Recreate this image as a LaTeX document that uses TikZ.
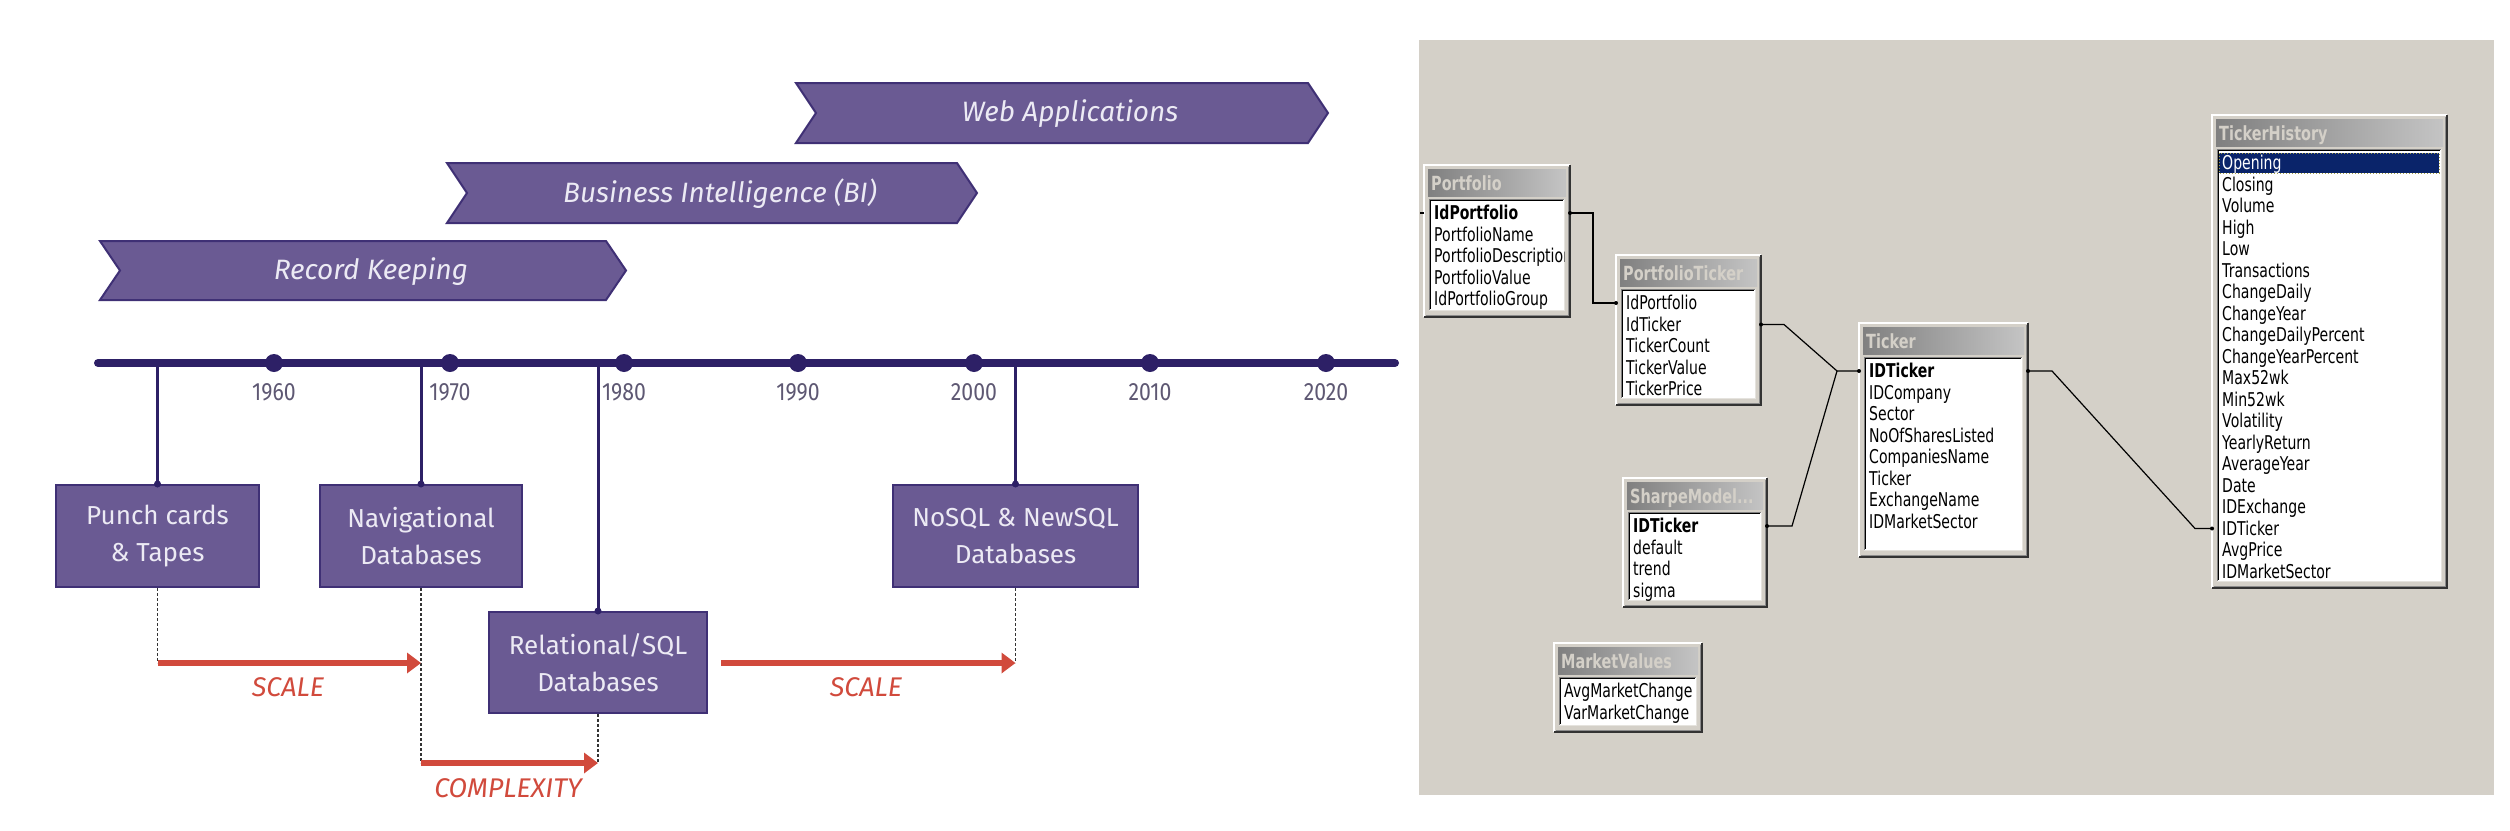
\documentclass[tikz,border=0pt]{standalone}
\usepackage{fontspec}
\setmainfont{Fira Sans}
\newfontfamily\tlfont{Fira Sans}
\newfontfamily\yrfont[FakeStretch=0.85]{Fira Sans}
\newfontfamily\dbfont[FakeStretch=0.74]{DejaVu Sans}
\usetikzlibrary{calc,arrows.meta}
\definecolor{chev}{HTML}{6A5A93}
\definecolor{chevdark}{HTML}{3F3075}
\definecolor{tline}{HTML}{2D2066}
\definecolor{boxtext}{HTML}{ECEAF4}
\definecolor{yeartext}{HTML}{5E5873}
\definecolor{redarr}{HTML}{D14A3C}
\definecolor{panel}{HTML}{D4D0C8}
\definecolor{tbL}{HTML}{808080}
\definecolor{tbR}{HTML}{C4C4C4}
\definecolor{selblue}{HTML}{0A246A}
\tikzset{
  chevtext/.style={font=\tlfont\itshape\fontsize{28}{32}\selectfont, text=boxtext},
  era/.style={rectangle, fill=chev, draw=chevdark, line width=2, text=boxtext, align=center,
              font=\tlfont\fontsize{26}{37}\selectfont, inner sep=0},
  tdot/.style={circle, fill=tline, minimum size=18, inner sep=0},
  year/.style={font=\yrfont\fontsize{25}{28}\selectfont, text=yeartext},
  drop/.style={tline, line width=3},
  dashlink/.style={black!80, line width=1.2, dash pattern=on 3pt off 2pt},
  redarrow/.style={redarr, line width=6, -{Triangle[length=14,width=20]}},
  redlabel/.style={font=\tlfont\itshape\fontsize{27}{30}\selectfont, text=redarr},
  conn/.style={black, line width=1.2},
  tabframe/.style={rectangle, fill=panel, draw=none, inner sep=0, outer sep=0},
  dbtitle/.style={anchor=base west, inner sep=0, text=panel, font=\dbfont\bfseries\fontsize{19.5}{22}\selectfont},
  field/.style={anchor=west, inner sep=0, text height=13, text depth=0, font=\dbfont\fontsize{19}{21}\selectfont}
}
\newcommand\chevron[6]{%
  \draw[fill=chev, draw=chevdark, line width=2, line join=miter] (#2,#4) -- (#3-20,#4) -- (#3,{(#4+#5)/2}) -- (#3-20,#5) -- (#2,#5) -- (#2+20,{(#4+#5)/2}) -- cycle;
  \node[chevtext] (#1) at ({(#2+#3)/2+8},{(#4+#5)/2+1}) {#6};
}
\newcommand\dbtab[6]{%
  \node[tabframe, anchor=north west, minimum width=#4, minimum height=#5] (#1) at (#2,#3) {};
  \draw[white, line width=1.5] (#1.south west) -- (#1.north west) -- (#1.north east);
  \draw[black!80, line width=1.5] (#1.north east) -- (#1.south east) -- (#1.south west);
  \draw[black!45, line width=1] ($(#1.north east)+(-2,2)$) -- ($(#1.south east)+(-2,-2)$) -- ($(#1.south west)+(2,-2)$);
  \shade[left color=tbL, right color=tbR] ($(#1.north west)+(4,4)$) rectangle ($(#1.north east)+(-4,31)$);
  \begin{scope}
    \clip ($(#1.north west)+(4,4)$) rectangle ($(#1.north east)+(-4,31)$);
    \node[dbtitle] at ($(#1.north west)+(7,25)$) {#6};
  \end{scope}
  \coordinate (#1-lnw) at ($(#1.north west)+(5,34)$);
  \coordinate (#1-lse) at ($(#1.south east)+(-6,-7)$);
  \fill[white] (#1-lnw) rectangle (#1-lse);
  \draw[black!50, line width=1] (#1-lnw |- #1-lse) -- (#1-lnw) -- (#1-lse |- #1-lnw);
  \draw[black, line width=1] ($(#1-lnw |- #1-lse)+(1,-1)$) -- ($(#1-lnw)+(1,1)$) -- ($(#1-lse |- #1-lnw)+(-1,1)$);
  \draw[panel!60!white, line width=1] (#1-lnw |- #1-lse) -- (#1-lse) -- (#1-lse |- #1-lnw);
}
\newcommand\dbrows[3]{%
  \begin{scope}
    \clip (#1-lnw) rectangle (#1-lse);
    \foreach \t [count=\i] in {#3} {
      \node[field] (#2\i) at ($(#1.north west)+(10,{48+21.5*(\i-1)})$) {\t};
    }
  \end{scope}}
\begin{document}
\begin{tikzpicture}[x=1pt,y=-1pt]
\useasboundingbox (0,0) rectangle (2510,830);
\fill[white] (0,0) rectangle (2510,830);

% ---------------- left: timeline ----------------
\chevron{web}{796}{1328}{83}{143}{Web Applications}
\chevron{bi}{447}{977}{163}{223}{Business Intelligence (BI)}
\chevron{rk}{100}{626}{241}{300}{Record Keeping}

\coordinate (tlS) at (98,363);
\coordinate (tlE) at (1395,363);
\draw[tline, line width=8, line cap=round] (tlS) -- (tlE);
\foreach \yr/\xx in {1960/274,1970/450,1980/624,1990/798,2000/974,2010/1150,2020/1326}{
  \node[tdot] (d\yr) at (\xx,363) {};
  \node[year] (y\yr) at (\xx,392) {\yr};
}

\node[era, minimum width=203, minimum height=102] (punch) at (157.5,536) {Punch cards\\\& Tapes};
\node[era, minimum width=202, minimum height=102] (nav) at (421,536) {Navigational\\Databases};
\node[era, minimum width=218, minimum height=101] (rel) at (598,662.5) {Relational/SQL\\Databases};
\node[era, minimum width=245, minimum height=102] (nosql) at (1015.5,536) {NoSQL \& NewSQL\\Databases};

\foreach \b in {punch,nav,rel,nosql}{
  \draw[drop] (\b.north |- tlS) -- (\b.north);
  \fill[tline] (\b.north) circle (3.5);
}

\coordinate (sa1) at (punch.south |- 0,663);
\coordinate (sa2) at (nav.south |- 0,663);
\coordinate (cb1) at (nav.south |- 0,763);
\coordinate (cb2) at (rel.south |- 0,763);
\coordinate (sc1) at ($(rel.east |- 0,663)+(13,0)$);
\coordinate (sc2) at (nosql.south |- 0,663);

\draw[dashlink] (punch.south) -- (sa1);
\draw[dashlink] (nav.south) -- (cb1);
\draw[dashlink] (rel.south) -- (cb2);
\draw[dashlink] (nosql.south) -- (sc2);

\draw[redarrow] (sa1) -- (sa2);
\draw[redarrow] (cb1) -- (cb2);
\draw[redarrow] (sc1) -- (sc2);

\node[redlabel] (scale1) at (288,687) {SCALE};
\node[redlabel] (scale2) at (866,687) {SCALE};
\node[redlabel] (cplx) at (508,788) {COMPLEXITY};

% ---------------- right: database diagram ----------------
\fill[panel] (1419,40) rectangle (2494,795);

\dbtab{tPf}{1424}{165}{146}{152}{Portfolio}
\dbrows{tPf}{pf}{{\textbf{IdPortfolio}},PortfolioName,PortfolioDescription,PortfolioValue,IdPortfolioGroup}

\dbtab{tPT}{1616}{255}{145}{150}{PortfolioTicker}
\dbrows{tPT}{pt}{IdPortfolio,IdTicker,TickerCount,TickerValue,TickerPrice}

\dbtab{tTk}{1859}{323}{169}{234}{Ticker}
\dbrows{tTk}{tk}{{\textbf{IDTicker}},IDCompany,Sector,NoOfSharesListed,CompaniesName,Ticker,ExchangeName,IDMarketSector}

\dbtab{tSM}{1623}{478}{144}{129}{SharpeModel...}
\dbrows{tSM}{sm}{{\textbf{IDTicker}},default,trend,sigma}

\dbtab{tMV}{1554}{643}{148}{89}{MarketValues}
\dbrows{tMV}{mv}{AvgMarketChange,VarMarketChange}

\dbtab{tTH}{2212}{115}{235}{473}{TickerHistory}
\fill[selblue] ($(tTH.north west)+(7,38)$) rectangle ($(tTH.north east)+(-8,58)$);
\draw[yellow!60!black, line width=1, dotted] ($(tTH.north west)+(7,38)$) rectangle ($(tTH.north east)+(-8,58)$);
\dbrows{tTH}{th}{{\textcolor{white}{Opening}},Closing,Volume,High,Low,Transactions,ChangeDaily,ChangeYear,ChangeDailyPercent,ChangeYearPercent,Max52wk,Min52wk,Volatility,YearlyReturn,AverageYear,Date,IDExchange,IDTicker,AvgPrice,IDMarketSector}

% relationships
\draw[conn] (tPf.west |- pf1) -- ++(-4,0);
\draw[conn] (tPf.east |- pf1) -- ++(23,0) |- (tPT.west |- pt1);
\coordinate (jn) at ($(tTk.west |- tk1)+(-22,0)$);
\draw[conn] (tPT.east |- pt2) -- ++(23,0) -- (jn) -- (tTk.west |- tk1);
\draw[conn] (tSM.east |- sm1) -- ++(25,0) -- (jn);
\draw[conn] (tTk.east |- tk1) -- ++(24,0) -- ($(tTH.west |- th18)+(-17,0)$) -- (tTH.west |- th18);
\foreach \p in {tPf.east |- pf1, tPT.west |- pt1, tPT.east |- pt2, tTk.west |- tk1, tSM.east |- sm1, tTk.east |- tk1, tTH.west |- th18}{
  \fill (\p) circle (2);
}
\end{tikzpicture}
\end{document}
